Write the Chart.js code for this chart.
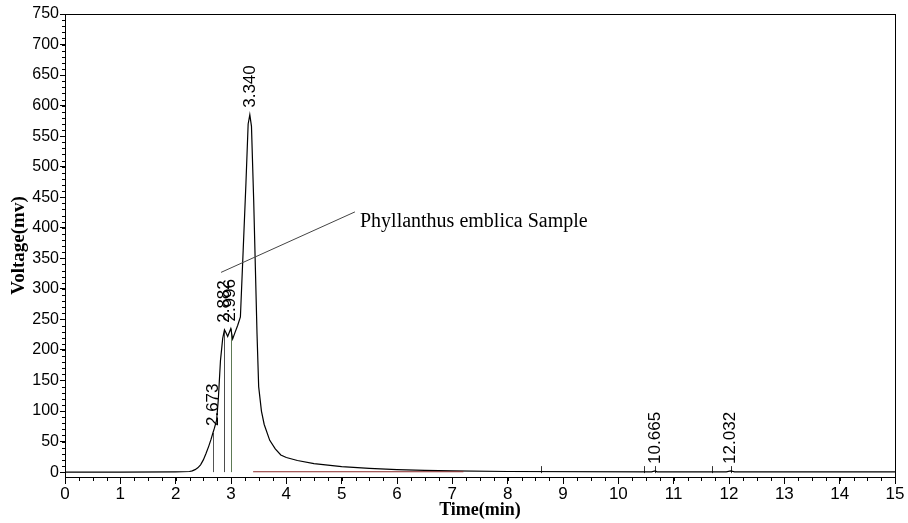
<!DOCTYPE html>
<html>
<head>
<meta charset="utf-8">
<script src="https://cdn.jsdelivr.net/npm/chart.js@4.4.1/dist/chart.umd.min.js"></script>
<style>
  html, body { margin: 0; padding: 0; background: #fff; }
  #wrap { position: relative; width: 908px; height: 523px; }
</style>
</head>
<body>
<div id="wrap"><canvas id="chrom" width="908" height="523"></canvas></div>
<script>
/* --- Data --- */
const timeMin = [0, 1.0, 2.0, 2.25, 2.3, 2.35, 2.4, 2.45, 2.5, 2.55, 2.6, 2.64, 2.673, 2.7, 2.74, 2.77, 2.81, 2.85, 2.882, 2.91, 2.94, 2.97, 2.996, 3.03, 3.07, 3.12, 3.17, 3.22, 3.27, 3.31, 3.34, 3.37, 3.41, 3.44, 3.47, 3.5, 3.55, 3.6, 3.7, 3.8, 3.9, 4.0, 4.2, 4.5, 5.0, 5.5, 6.0, 6.5, 7.0, 8.0, 10.6, 10.665, 10.7, 11.95, 12.032, 12.1, 15];
const voltage = [0, 0, 0.5, 1, 2, 4, 7, 12, 20, 31, 43, 54, 64, 72, 85, 118, 183, 219, 233, 228, 222, 229, 235, 218, 228, 240, 254, 363, 473, 570, 585, 566, 445, 336, 227, 140, 100, 78, 52, 38, 28, 24, 19, 14, 9, 6, 4, 3, 2, 1, 0.5, 2, 0.5, 0.5, 2, 0.5, 0.5];

// retention times and heights of the labelled peaks
const peakTimes = [2.673, 2.882, 2.996, 3.340, 10.665, 12.032];
const peakHeights = [64, 233, 235, 585, 2, 2];
const peakLabels = ['2.673', '2.882', '2.996', '3.340', '10.665', '12.032'];

// peaks that get a drop line down to the baseline
const dropTimes = [2.673, 2.882, 2.996];
const dropHeights = [64, 233, 235];
const dropColors = ['#555555', '#4d4d4d', '#5d7a55'];

// small integration marks on the baseline
const markTimes = [8.6, 10.46, 10.665, 11.7, 12.032];

// drawn baseline (red) under the tail
const baseTimes = [3.4, 7.2];
const baseVolts = [0.6, 0.6];

const xTicks = [0, 1, 2, 3, 4, 5, 6, 7, 8, 9, 10, 11, 12, 13, 14, 15];
const yTicks = [0, 50, 100, 150, 200, 250, 300, 350, 400, 450, 500, 550, 600, 650, 700, 750];

const sampleName = 'Phyllanthus emblica Sample';
const pointerFrom = [2.82, 327];
const pointerTo = [5.24, 426];

/* --- Plugin: frame, minor ticks, drop lines, labels --- */
const extras = {
  id: 'extras',
  beforeDatasetsDraw(chart) {
    const { ctx, scales: { x, y } } = chart;
    ctx.save();
    // drop lines
    dropTimes.forEach((t, i) => {
      ctx.strokeStyle = dropColors[i];
      ctx.lineWidth = 1;
      ctx.beginPath();
      ctx.moveTo(Math.round(x.getPixelForValue(t)) + 0.5, y.getPixelForValue(0));
      ctx.lineTo(Math.round(x.getPixelForValue(t)) + 0.5, y.getPixelForValue(dropHeights[i]));
      ctx.stroke();
    });
    // integration marks
    ctx.strokeStyle = '#333';
    markTimes.forEach(t => {
      const px = Math.round(x.getPixelForValue(t)) + 0.5;
      ctx.beginPath();
      ctx.moveTo(px, y.getPixelForValue(0) + 1);
      ctx.lineTo(px, y.getPixelForValue(0) - 6);
      ctx.stroke();
    });
    ctx.restore();
  },
  afterDraw(chart) {
    const { ctx, chartArea: a, scales: { x, y } } = chart;
    ctx.save();
    // frame
    ctx.strokeStyle = '#000';
    ctx.lineWidth = 1;
    ctx.strokeRect(Math.round(a.left) + 0.5, Math.round(a.top) + 0.5,
      Math.round(a.right - a.left), Math.round(a.bottom - a.top));

    // minor ticks
    ctx.beginPath();
    for (let v = 0; v <= 15.001; v += 0.25) {
      const px = Math.round(x.getPixelForValue(v)) + 0.5;
      ctx.moveTo(px, a.bottom);
      ctx.lineTo(px, a.bottom + 4);
    }
    for (let v = 0; v <= 750; v += 10) {
      const py = Math.round(y.getPixelForValue(v)) + 0.5;
      ctx.moveTo(a.left, py);
      ctx.lineTo(a.left - 3, py);
    }
    ctx.stroke();

    // peak labels
    ctx.fillStyle = '#000';
    ctx.font = '17px "Liberation Sans", Arial, sans-serif';
    ctx.textAlign = 'left';
    ctx.textBaseline = 'middle';
    peakTimes.forEach((t, i) => {
      const px = x.getPixelForValue(t);
      const py = y.getPixelForValue(peakHeights[i]) - 7;
      ctx.save();
      ctx.translate(px, py);
      ctx.rotate(-Math.PI / 2);
      ctx.fillText(peakLabels[i], 0, 0);
      ctx.restore();
    });

    // pointer line + sample name
    const x1 = x.getPixelForValue(pointerFrom[0]), y1 = y.getPixelForValue(pointerFrom[1]);
    const x2 = x.getPixelForValue(pointerTo[0]), y2 = y.getPixelForValue(pointerTo[1]);
    ctx.strokeStyle = '#444';
    ctx.beginPath();
    ctx.moveTo(x1, y1);
    ctx.lineTo(x2, y2);
    ctx.stroke();
    ctx.fillStyle = '#000';
    ctx.font = '20px "Liberation Serif", "Times New Roman", serif';
    ctx.textBaseline = 'middle';
    ctx.fillText(sampleName, x2 + 5, y2 + 10);
    ctx.restore();
  }
};

const curve = timeMin.map((t, i) => ({ x: t, y: voltage[i] }));
const baseline = baseTimes.map((t, i) => ({ x: t, y: baseVolts[i] }));

new Chart(document.getElementById('chrom'), {
  type: 'line',
  data: {
    datasets: [
      {
        label: 'Baseline',
        data: baseline,
        borderColor: '#8a2b2b',
        borderWidth: 1,
        pointRadius: 0,
        tension: 0
      },
      {
        label: 'Signal',
        data: curve,
        borderColor: '#000',
        borderWidth: 1.2,
        pointRadius: 0,
        tension: 0
      }
    ]
  },
  plugins: [extras],
  options: {
    responsive: false,
    animation: false,
    layout: { padding: { top: 14, right: 13, left: 0, bottom: 0 } },
    plugins: {
      legend: { display: false },
      tooltip: { enabled: false }
    },
    scales: {
      x: {
        type: 'linear',
        min: 0,
        max: 15,
        afterBuildTicks: s => { s.ticks = xTicks.map(v => ({ value: v })); },
        afterFit: s => { s.height = 46; },
        grid: { drawOnChartArea: false, color: '#000', tickLength: 7, tickColor: '#000' },
        border: { color: '#000' },
        ticks: {
          color: '#000',
          padding: 0,
          maxRotation: 0,
          font: { family: '"Liberation Sans", Arial, sans-serif', size: 17 }
        },
        title: {
          display: true,
          text: 'Time(min)',
          color: '#000',
          padding: { top: 0, bottom: 2 },
          font: { family: '"Liberation Serif", "Times New Roman", serif', size: 18, weight: 'bold' }
        }
      },
      y: {
        min: -8,
        max: 750,
        afterBuildTicks: s => { s.ticks = yTicks.map(v => ({ value: v })); },
        afterFit: s => { s.width = 65; },
        grid: { drawOnChartArea: false, color: '#000', tickLength: 5, tickColor: '#000' },
        border: { color: '#000' },
        ticks: {
          color: '#000',
          padding: 1,
          font: { family: '"Liberation Sans", Arial, sans-serif', size: 16 }
        },
        title: {
          display: true,
          text: 'Voltage(mv)',
          color: '#000',
          padding: { top: 8, bottom: 0 },
          font: { family: '"Liberation Serif", "Times New Roman", serif', size: 19, weight: 'bold' }
        }
      }
    }
  }
});
</script>
</body>
</html>
